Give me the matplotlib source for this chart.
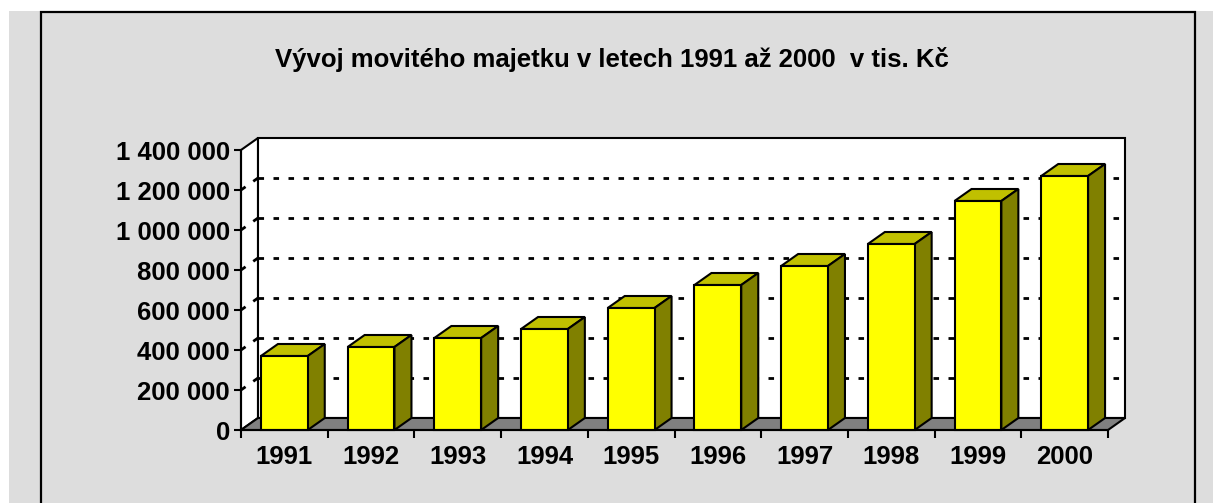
#!/usr/bin/env python
"""Excel-style 3D column chart: Vývoj movitého majetku 1991-2000."""

import matplotlib
matplotlib.use("Agg")
import matplotlib.pyplot as plt
from matplotlib.patches import Polygon, Rectangle
from matplotlib.ticker import FuncFormatter

YEARS = ["1991", "1992", "1993", "1994", "1995",
         "1996", "1997", "1998", "1999", "2000"]
VALUES = [370000, 415000, 460000, 505000, 610000,
          725000, 820000, 930000, 1145000, 1270000]
Y_TICKS = [0, 200000, 400000, 600000, 800000, 1000000, 1200000, 1400000]
TITLE = "Vývoj movitého majetku v letech 1991 až 2000  v tis. Kč"

W, H = 1213, 503
BG = "#dddddd"
FRONT = "#ffff00"
TOP = "#c0c000"
SIDE = "#808000"
FLOOR = "#808080"

plt.rcParams["font.family"] = ["Liberation Sans", "DejaVu Sans"]
plt.rcParams["font.weight"] = "bold"

fig = plt.figure(figsize=(W / 100, H / 100), dpi=100, facecolor="white")


def fx(px):
    return px / W


def fy(py):
    return 1 - py / H


# chart area + frame
fig.patches.append(Rectangle((fx(9), 0), 1 - fx(9), fy(11), transform=fig.transFigure,
                             facecolor=BG, edgecolor="none", zorder=-2))
fig.patches.append(Rectangle((fx(41), fy(520)), fx(1195) - fx(41), fy(12) - fy(520),
                             transform=fig.transFigure, facecolor="none",
                             edgecolor="black", linewidth=1.6, zorder=-1))

fig.text(fx(612), fy(67), TITLE, ha="center", va="baseline", fontsize=18.5, fontweight="bold")

ax = fig.add_axes([fx(241), fy(430), fx(1108) - fx(241), fy(150) - fy(430)])
ax.set_zorder(2)
ax.patch.set_visible(False)
n = len(YEARS)
ymax = Y_TICKS[-1]
ax.set_xlim(0, n)
ax.set_ylim(0, ymax)

# depth of the 3D box in data units
DX = 17 / 86.7
DY = 12 * ymax / 280

lw = 1.5
edge = dict(edgecolor="black", linewidth=lw, clip_on=False, joinstyle="miter")

# side wall + back wall
ax.add_patch(Polygon([(0, 0), (0, ymax), (DX, ymax + DY), (DX, DY)],
                     facecolor="white", zorder=1, **edge))
ax.add_patch(Polygon([(DX, DY), (n + DX, DY), (n + DX, ymax + DY), (DX, ymax + DY)],
                     facecolor="white", zorder=1, **edge))

# gridlines on the walls
grid_ls = (0, (2.0, 3.4))
for v in Y_TICKS[1:-1]:
    ax.plot([DX, n + DX], [v + DY, v + DY], color="black", lw=2.0,
            linestyle=grid_ls, clip_on=False, zorder=2)
    ax.plot([0, DX], [v, v + DY], color="black", lw=2.0,
            linestyle=grid_ls, clip_on=False, zorder=2)

# floor
ax.add_patch(Polygon([(0, 0), (n, 0), (n + DX, DY), (DX, DY)],
                     facecolor=FLOOR, zorder=3, **edge))

# bars
bw = 0.54
for i, v in enumerate(VALUES):
    x0 = i + 0.5 - bw / 2
    x1 = x0 + bw
    ax.add_patch(Polygon([(x0, v), (x1, v), (x1 + DX, v + DY), (x0 + DX, v + DY)],
                         facecolor=TOP, zorder=4, **edge))
    ax.add_patch(Polygon([(x1, 0), (x1 + DX, DY), (x1 + DX, v + DY), (x1, v)],
                         facecolor=SIDE, zorder=4, **edge))
    ax.add_patch(Rectangle((x0, 0), bw, v, facecolor=FRONT, zorder=5, **edge))

# axes
for s in ("top", "right"):
    ax.spines[s].set_visible(False)
for s in ("left", "bottom"):
    ax.spines[s].set_linewidth(lw)
    ax.spines[s].set_zorder(6)

ax.set_yticks(Y_TICKS)
ax.yaxis.set_major_formatter(FuncFormatter(lambda v, p: f"{int(v):,}".replace(",", " ")))
ax.tick_params(axis="y", direction="out", length=5, width=lw, pad=3, labelsize=18.5)

ax.set_xticks(range(n + 1))
ax.set_xticklabels([])
ax.set_xticks([i + 0.5 for i in range(n)], minor=True)
ax.set_xticklabels(YEARS, minor=True)
ax.tick_params(axis="x", which="major", direction="out", length=6, width=lw)
ax.tick_params(axis="x", which="minor", length=0, pad=11, labelsize=18.5)
for lab in ax.get_xticklabels(minor=True) + ax.get_yticklabels():
    lab.set_fontweight("bold")

fig.savefig("out.png", dpi=100, facecolor="white")
